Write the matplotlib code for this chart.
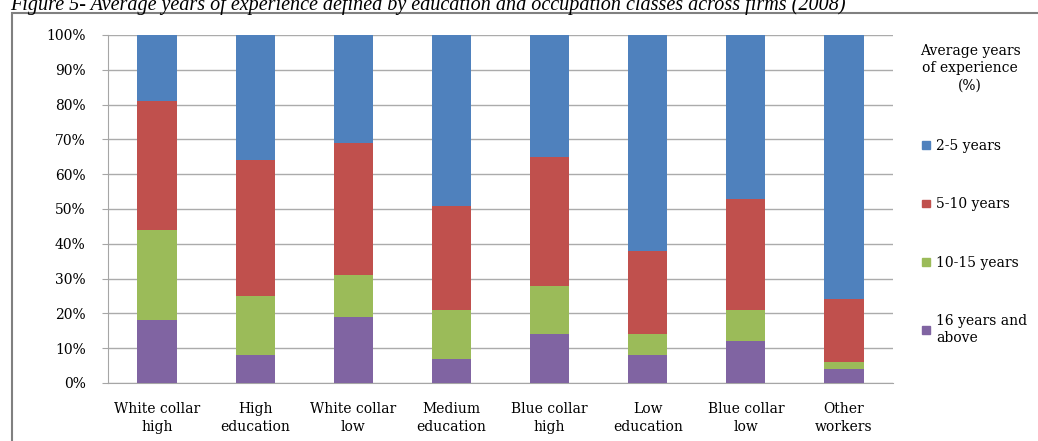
import matplotlib
matplotlib.use("Agg")
import matplotlib.pyplot as plt
import numpy as np
from matplotlib.patches import Rectangle, Patch

categories = ["White collar\nhigh", "High\neducation", "White collar\nlow", "Medium\neducation",
              "Blue collar\nhigh", "Low\neducation", "Blue collar\nlow", "Other\nworkers"]
years_16_plus = [18, 8, 19, 7, 14, 8, 12, 4]
years_10_15 = [26, 17, 12, 14, 14, 6, 9, 2]
years_5_10 = [37, 39, 38, 30, 37, 24, 32, 18]
years_2_5 = [19, 36, 31, 49, 35, 62, 47, 76]
series_labels = ["16 years and\nabove", "10-15 years", "5-10 years", "2-5 years"]
colors = ["#8064A2", "#9BBB59", "#C0504D", "#4F81BD"]
yticks = [0, 10, 20, 30, 40, 50, 60, 70, 80, 90, 100]

plt.rcParams["font.family"] = ["DejaVu Serif"]

fig = plt.figure(figsize=(10.38, 4.41), dpi=100)
W, H = 1038, 441
ax = fig.add_axes([108 / W, 1 - 383 / H, (893 - 108) / W, (383 - 35) / H])

x = np.arange(len(categories))
bottom = np.zeros(len(categories))
handles = []
for vals, col, lab in zip([years_16_plus, years_10_15, years_5_10, years_2_5], colors, series_labels):
    ax.bar(x, vals, width=0.4, bottom=bottom, color=col, zorder=3)
    bottom += np.array(vals)
    handles.append(Patch(color=col, label=lab))

ax.set_xlim(-0.5, len(categories) - 0.5)
ax.set_ylim(0, 100)
ax.set_yticks(yticks)
ax.set_yticklabels([f"{v}%" for v in yticks], fontsize=10)
ax.set_xticks(x)
ax.set_xticklabels(categories, fontsize=10, linespacing=1.3)
ax.tick_params(axis="x", length=0, pad=14)
ax.tick_params(axis="y", length=4, color="#A6A6A6", pad=12)
ax.yaxis.grid(True, color="#ABABAB", linewidth=1.0, zorder=0)
for s in ["top", "right"]:
    ax.spines[s].set_visible(False)
for s in ["left", "bottom"]:
    ax.spines[s].set_color("#A6A6A6")

# legend on the right, newest series on top
fig.text(970 / W, 1 - 44 / H, "Average years\nof experience\n(%)", ha="center", va="top",
         fontsize=10, linespacing=1.3)
fig.legend(handles=handles[::-1], loc="upper left", bbox_to_anchor=(922 / W, 1 - 139 / H),
           frameon=False, fontsize=10, handlelength=0.6, handleheight=0.5,
           handletextpad=0.4, labelspacing=3.2, borderpad=0, borderaxespad=0)

# outer frame and caption
fig.patches.append(Rectangle((12 / W, -0.1), 1.2, 1 - 13 / H + 0.1, transform=fig.transFigure,
                             fill=False, edgecolor="#808080", linewidth=1.5))
fig.text(10 / W, 1 - 10 / H,
         "Figure 5- Average years of experience defined by education and occupation classes across firms (2008)",
         ha="left", va="baseline", fontsize=14.5, style="italic",
         family=["Liberation Serif", "DejaVu Serif"])

fig.savefig("out.png", dpi=100)
